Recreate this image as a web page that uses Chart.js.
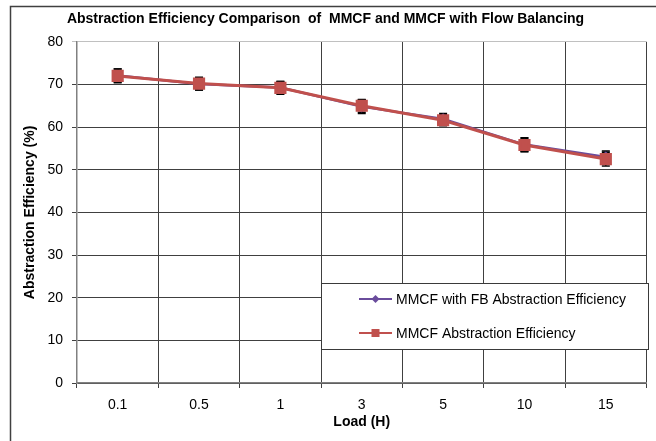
<!DOCTYPE html>
<html>
<head>
<meta charset="utf-8">
<script src="https://cdn.jsdelivr.net/npm/chart.js@4/dist/chart.umd.min.js"></script>
<style>
  html, body { margin: 0; padding: 0; background: #fff; }
  #wrap { width: 656px; height: 441px; }
</style>
</head>
<body>
<div id="wrap"><canvas id="c" width="656" height="441"></canvas></div>
<script>
// Load levels (H) along the x axis
const loads = ['0.1', '0.5', '1', '3', '5', '10', '15'];
// Abstraction efficiency (%) for each configuration
const fbEfficiency = [72.1, 70.1, 69.3, 64.8, 61.9, 55.9, 53.0];
const mmcfEfficiency = [72.0, 70.2, 69.2, 65.0, 61.6, 55.8, 52.5];
// Error bar half-widths (%)
const fbError = [1.5, 1.4, 1.4, 1.6, 1.3, 1.6, 1.4];
const mmcfError = [1.6, 1.5, 1.5, 1.5, 1.3, 1.6, 1.6];
// Labels
const seriesNames = ['MMCF with FB Abstraction Efficiency', 'MMCF Abstraction Efficiency'];
const chartTitle = 'Abstraction Efficiency Comparison  of  MMCF and MMCF with Flow Balancing';
const xTitle = 'Load (H)';
const yTitle = 'Abstraction Efficiency (%)';

const FONT = "'Liberation Sans', Arial, sans-serif";
const PURPLE = '#6a4c9c';
const RED = '#c0504d';

// White page with the outer frame lines
const framePlugin = {
  id: 'frame',
  beforeDraw(chart) {
    const ctx = chart.ctx;
    ctx.save();
    ctx.fillStyle = '#fff';
    ctx.fillRect(0, 0, chart.width, chart.height);
    ctx.strokeStyle = '#404040';
    ctx.lineWidth = 1.5;
    ctx.beginPath();
    ctx.moveTo(10.5, chart.height);
    ctx.lineTo(10.5, 6.5);
    ctx.lineTo(chart.width, 6.5);
    ctx.stroke();
    ctx.restore();
  }
};

// Vertical error bars drawn beneath the markers
const errorBarPlugin = {
  id: 'errorBars',
  beforeDatasetsDraw(chart) {
    const ctx = chart.ctx;
    const y = chart.scales.y;
    ctx.save();
    ctx.strokeStyle = '#000';
    ctx.lineWidth = 1.5;
    chart.data.datasets.forEach((ds, di) => {
      const meta = chart.getDatasetMeta(di);
      meta.data.forEach((pt, i) => {
        const v = ds.data[i], e = ds.errors[i];
        const top = y.getPixelForValue(v + e);
        const bot = y.getPixelForValue(v - e);
        const x = pt.x;
        ctx.beginPath();
        ctx.moveTo(x, top); ctx.lineTo(x, bot);
        ctx.moveTo(x - 4, top); ctx.lineTo(x + 4, top);
        ctx.moveTo(x - 4, bot); ctx.lineTo(x + 4, bot);
        ctx.stroke();
      });
    });
    ctx.restore();
  }
};

// Boxed legend inside the plot, lower right
const legendBoxPlugin = {
  id: 'legendBox',
  afterDraw(chart) {
    const ctx = chart.ctx;
    const bx = 321.5, by = 283.5, bw = 327, bh = 66;
    ctx.save();
    ctx.fillStyle = '#fff';
    ctx.fillRect(bx, by, bw, bh);
    ctx.strokeStyle = '#3a3a3a';
    ctx.lineWidth = 1;
    ctx.strokeRect(bx, by, bw, bh);
    const rows = [299, 333];
    chart.data.datasets.forEach((ds, i) => {
      const yy = rows[i];
      ctx.strokeStyle = ds.borderColor;
      ctx.lineWidth = 2;
      ctx.beginPath();
      ctx.moveTo(359, yy); ctx.lineTo(392, yy);
      ctx.stroke();
      ctx.fillStyle = ds.pointBackgroundColor;
      const cx = 375.5;
      if (ds.pointStyle === 'rect') {
        ctx.fillRect(cx - 4, yy - 4, 8, 8);
      } else {
        ctx.beginPath();
        ctx.moveTo(cx, yy - 4); ctx.lineTo(cx + 4, yy); ctx.lineTo(cx, yy + 4); ctx.lineTo(cx - 4, yy);
        ctx.closePath(); ctx.fill();
      }
      ctx.fillStyle = '#000';
      ctx.font = '14px ' + FONT;
      ctx.textBaseline = 'middle';
      ctx.textAlign = 'left';
      ctx.fillText(ds.label, 396, yy + 1);
    });
    ctx.restore();
  }
};

new Chart(document.getElementById('c'), {
  type: 'line',
  data: {
    labels: loads,
    datasets: [
      {
        label: seriesNames[0],
        data: fbEfficiency,
        errors: fbError,
        order: 1,
        borderColor: PURPLE,
        backgroundColor: PURPLE,
        pointBackgroundColor: PURPLE,
        pointBorderColor: PURPLE,
        borderWidth: 2.5,
        pointStyle: 'rectRot',
        pointRadius: 4,
        tension: 0
      },
      {
        label: seriesNames[1],
        data: mmcfEfficiency,
        errors: mmcfError,
        order: 0,
        borderColor: RED,
        backgroundColor: RED,
        pointBackgroundColor: RED,
        pointBorderColor: RED,
        borderWidth: 3,
        pointStyle: 'rect',
        pointRadius: 6.5,
        tension: 0
      }
    ]
  },
  options: {
    responsive: false,
    animation: false,
    events: [],
    layout: { padding: { left: 0, right: 5, top: 0, bottom: 0 } },
    plugins: {
      legend: { display: false },
      tooltip: { enabled: false },
      title: {
        display: true,
        text: chartTitle,
        color: '#000',
        font: { family: FONT, size: 14, weight: 'bold', lineHeight: 1.2 },
        padding: { top: 11, bottom: 14 }
      }
    },
    scales: {
      x: {
        type: 'category',
        offset: true,
        afterFit(scale) { scale.height = 58; },
        grid: {
          offset: true,
          drawTicks: true,
          tickLength: 5,
          lineWidth: 1,
          color: (c) => (c.index === loads.length ? '#c0c0c0' : '#404040')
        },
        border: { display: true, color: '#808080', width: 1.5 },
        ticks: {
          color: '#000',
          padding: 9,
          font: { family: FONT, size: 14 }
        },
        title: {
          display: true,
          text: xTitle,
          color: '#000',
          font: { family: FONT, size: 14, weight: 'bold', lineHeight: 1.2 },
          padding: { top: 0, bottom: 10 }
        }
      },
      y: {
        min: 0,
        max: 80,
        afterFit(scale) { scale.width = 77; },
        grid: {
          tickLength: 5,
          lineWidth: 1,
          color: (c) => (c.tick && c.tick.value === 80 ? '#c0c0c0' : '#404040')
        },
        border: { display: true, color: '#808080', width: 1.5 },
        ticks: {
          stepSize: 10,
          color: '#000',
          padding: 9,
          font: { family: FONT, size: 14 }
        },
        title: {
          display: true,
          text: yTitle,
          color: '#000',
          font: { family: FONT, size: 14, weight: 'bold', lineHeight: 1.2 },
          padding: { top: 22, bottom: 0 }
        }
      }
    }
  },
  plugins: [framePlugin, errorBarPlugin, legendBoxPlugin]
});
</script>
</body>
</html>
